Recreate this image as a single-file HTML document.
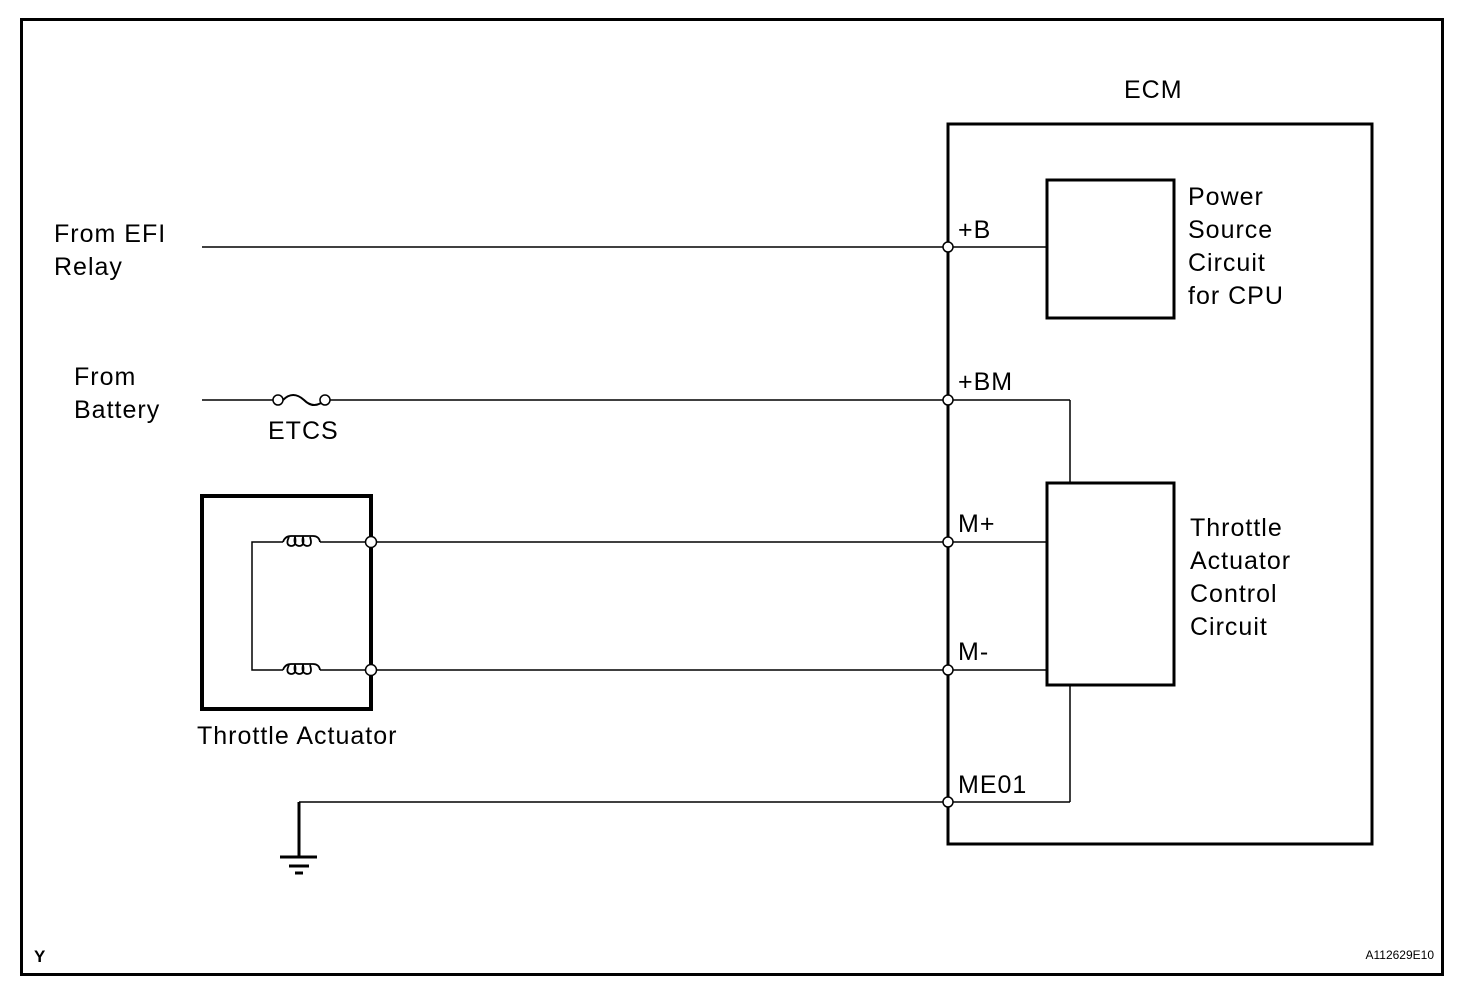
<!DOCTYPE html>
<html><head><style>body{margin:0;background:#fff}svg{display:block}text{font-family:"Liberation Sans",sans-serif;font-size:25px;letter-spacing:1px;fill:#000}</style></head><body>
<svg width="1472" height="988" viewBox="0 0 1472 988">
<rect x="21.5" y="19.5" width="1421" height="955" fill="none" stroke="#000" stroke-width="3"/>
<text x="1124" y="98">ECM</text>
<rect x="948" y="124" width="424" height="720" fill="none" stroke="#000" stroke-width="3"/>
<rect x="1047" y="180" width="127" height="138" fill="none" stroke="#000" stroke-width="3"/>
<rect x="1047" y="483" width="127" height="202" fill="none" stroke="#000" stroke-width="3"/>
<rect x="202" y="496" width="169" height="213" fill="none" stroke="#000" stroke-width="4"/>
<g stroke="#000" stroke-width="1.5" fill="none">
<line x1="202" y1="247" x2="1047" y2="247"/>
<line x1="202" y1="400" x2="273" y2="400"/>
<line x1="330" y1="400" x2="1070" y2="400"/>
<line x1="1070" y1="400" x2="1070" y2="483"/>
<path d="M283 400 q10 -10 21 0 q10 10 21 0" stroke-width="2"/>
<line x1="371" y1="542" x2="1047" y2="542"/>
<line x1="371" y1="670" x2="1047" y2="670"/>
<line x1="299" y1="802" x2="1070" y2="802"/>
<line x1="1070" y1="802" x2="1070" y2="685"/>
<path d="M320 542 H371 M283 542 H252 V670 H283 M320 670 H371"/>
<path d="M283 542 q2 -6 8 -6 h22 q6 0 7 6 M289 537 q-4 8 2 9 q6 0 4 -9 q-2 8 4 9 q6 0 4 -9 q-2 8 4 9 q6 0 3 -9" stroke-width="1.8"/>
<path d="M283 670 q2 -6 8 -6 h22 q6 0 7 6 M289 665 q-4 8 2 9 q6 0 4 -9 q-2 8 4 9 q6 0 4 -9 q-2 8 4 9 q6 0 3 -9" stroke-width="1.8"/>
</g>
<g stroke="#000" stroke-width="3">
<line x1="299" y1="802" x2="299" y2="857"/>
<line x1="280" y1="857" x2="317" y2="857"/>
<line x1="289" y1="866" x2="309" y2="866"/>
<line x1="295" y1="873" x2="303" y2="873"/>
</g>
<g fill="#fff" stroke="#000" stroke-width="1.5">
<circle cx="278" cy="400" r="5"/><circle cx="325" cy="400" r="5"/>
<circle cx="948" cy="247" r="5"/><circle cx="948" cy="400" r="5"/>
<circle cx="948" cy="542" r="5"/><circle cx="948" cy="670" r="5"/>
<circle cx="948" cy="802" r="5"/>
<circle cx="371" cy="542" r="5.5"/><circle cx="371" cy="670" r="5.5"/>
</g>
<text x="54" y="242">From EFI</text><text x="54" y="275">Relay</text>
<text x="74" y="385">From</text><text x="74" y="418">Battery</text>
<text x="268" y="439">ETCS</text>
<text x="197" y="744">Throttle Actuator</text>
<text x="958" y="238">+B</text><text x="958" y="390">+BM</text>
<text x="958" y="532">M+</text><text x="958" y="660">M-</text>
<text x="958" y="793">ME01</text>
<text x="1188" y="205">Power</text><text x="1188" y="238">Source</text><text x="1188" y="271">Circuit</text><text x="1188" y="304">for CPU</text>
<text x="1190" y="536">Throttle</text><text x="1190" y="569">Actuator</text><text x="1190" y="602">Control</text><text x="1190" y="635">Circuit</text>
<text x="34" y="962" style="font-size:17px;font-weight:bold;letter-spacing:0">Y</text>
<text x="1434" y="959" text-anchor="end" style="font-size:12px;letter-spacing:0">A112629E10</text>
</svg>
</body></html>
